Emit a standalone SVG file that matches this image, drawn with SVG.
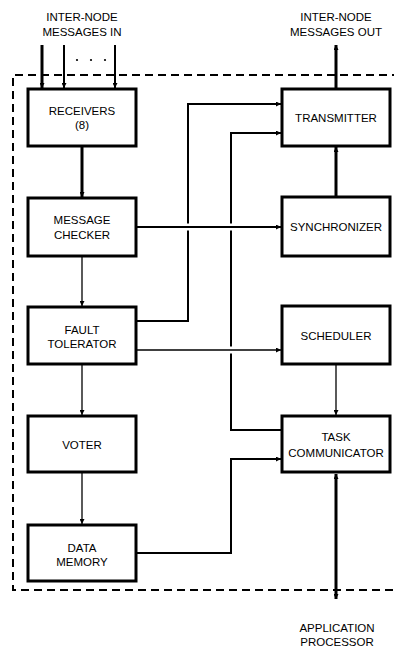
<svg xmlns="http://www.w3.org/2000/svg" width="394" height="650" viewBox="0 0 394 650">
<style>
.box{fill:#fff;stroke:#000;stroke-width:3}
.t{font-family:"Liberation Sans",Arial,sans-serif;font-size:11.5px;fill:#000;text-anchor:middle}
.c{fill:none;stroke:#000;stroke-linejoin:miter}
.w3{stroke-width:3}
.w2{stroke-width:2}
.w1{stroke-width:1.3}
.halo{fill:none;stroke:#fff;stroke-width:7}
</style>
<defs>
<marker id="ah" viewBox="0 0 6 6" refX="6" refY="3" markerWidth="5" markerHeight="5" markerUnits="userSpaceOnUse" orient="auto-start-reverse">
<path d="M0,0 L6,3 L0,6 z" fill="#000"/>
</marker>
</defs>
<rect width="394" height="650" fill="#fff"/>
<path d="M400,75 H13 V590 H400" fill="none" stroke="#000" stroke-width="2" stroke-dasharray="8,5"/>
<g id="connectors">
<path class="c w3" d="M42,45 V88" marker-end="url(#ah)"/>
<path class="c w2" d="M64,45 V88" marker-end="url(#ah)"/>
<path class="c w2" d="M115,45 V88" marker-end="url(#ah)"/>
<circle cx="77" cy="60" r="1.1"/>
<circle cx="91" cy="60" r="1.1"/>
<circle cx="105" cy="60" r="1.1"/>
<path class="c w3" d="M82,147 V197" marker-end="url(#ah)"/>
<path class="c w1" d="M82,257 V306" marker-end="url(#ah)"/>
<path class="c w1" d="M82,365 V415" marker-end="url(#ah)"/>
<path class="c w1" d="M82,473 V524" marker-end="url(#ah)"/>
<path class="c w2" d="M137,321 H188 V104 H281" marker-end="url(#ah)"/>
<path class="c w2" d="M281,430 H231 V133 H281" marker-end="url(#ah)"/>
<path class="c w2" d="M137,553 H231 V459 H281" marker-end="url(#ah)"/>
<path class="halo" d="M183,227 H193 M226,227 H236 M226,350 H236"/>
<path class="c w2" d="M137,227 H281" marker-end="url(#ah)"/>
<path class="c w1" d="M137,350 H281" marker-end="url(#ah)"/>
<path class="c w3" d="M336,196 V147" marker-end="url(#ah)"/>
<path class="c w3" d="M336,88 V45" marker-end="url(#ah)"/>
<path class="c w1" d="M336,365 V415" marker-end="url(#ah)"/>
<path class="c w3" d="M336,474 V599" marker-start="url(#ah)" marker-end="url(#ah)"/>
</g>
<g id="receivers"><rect class="box" x="28" y="89" width="108" height="57"/><text class="t" x="82" y="115">RECEIVERS</text><text class="t" x="82" y="129">(8)</text></g>
<g id="message-checker"><rect class="box" x="28" y="198" width="108" height="58"/><text class="t" x="82" y="224">MESSAGE</text><text class="t" x="82" y="239">CHECKER</text></g>
<g id="fault-tolerator"><rect class="box" x="28" y="307" width="108" height="57"/><text class="t" x="82" y="334">FAULT</text><text class="t" x="82" y="348">TOLERATOR</text></g>
<g id="voter"><rect class="box" x="28" y="416" width="108" height="56"/><text class="t" x="82" y="449">VOTER</text></g>
<g id="data-memory"><rect class="box" x="28" y="525" width="108" height="56"/><text class="t" x="82" y="552">DATA</text><text class="t" x="82" y="566">MEMORY</text></g>
<g id="transmitter"><rect class="box" x="282" y="89" width="108" height="57"/><text class="t" x="336" y="122">TRANSMITTER</text></g>
<g id="synchronizer"><rect class="box" x="282" y="197" width="108" height="59"/><text class="t" x="336" y="231">SYNCHRONIZER</text></g>
<g id="scheduler"><rect class="box" x="282" y="306" width="108" height="58"/><text class="t" x="336" y="340">SCHEDULER</text></g>
<g id="task-communicator"><rect class="box" x="282" y="416" width="108" height="56"/><text class="t" x="336" y="441">TASK</text><text class="t" x="336" y="457">COMMUNICATOR</text></g>
<g id="label-in"><text class="t" x="82" y="21">INTER-NODE</text><text class="t" x="82" y="36">MESSAGES IN</text></g>
<g id="label-out"><text class="t" x="336" y="21">INTER-NODE</text><text class="t" x="336" y="36">MESSAGES OUT</text></g>
<g id="label-ap"><text class="t" x="337" y="632">APPLICATION</text><text class="t" x="337" y="646">PROCESSOR</text></g>
</svg>
